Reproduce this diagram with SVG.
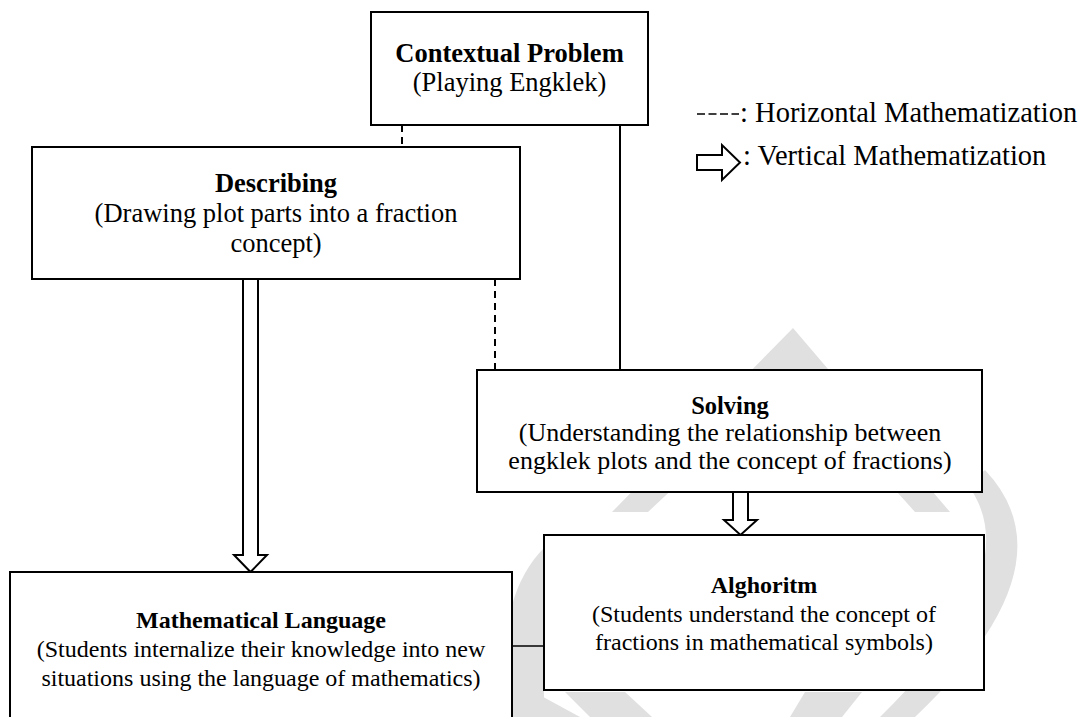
<svg xmlns="http://www.w3.org/2000/svg" width="1087" height="717" viewBox="0 0 1087 717">
<style>
.box{fill:#fff;stroke:#000;stroke-width:2}
.t{font-family:"Liberation Serif","Times New Roman",serif;font-size:26.5px;fill:#000;text-anchor:middle}
.s{font-size:24px}
.m{font-size:26px}
.b{font-weight:bold}
.dash{stroke:#000;stroke-width:2;stroke-dasharray:7 5;fill:none}
.solid{stroke:#000;stroke-width:2;fill:none}
.arrow{fill:#fff;stroke:#000;stroke-width:2;stroke-linejoin:miter}
.wm{fill:#e0e0e0;stroke:none}
.lg{font-family:"Liberation Serif","Times New Roman",serif;font-size:28.5px;fill:#000}
</style>
<rect width="1087" height="717" fill="#fff"/>
<g id="watermark">
<polygon class="wm" points="612,512 793,328 950,512 915,512 793,376 648,512"/>
<path class="wm" d="M 985,470 Q 1075,565 915,717 L 880,717 Q 1030,570 968,485 Z"/>
<path class="wm" d="M 512,605 Q 522,570 544,548 L 544,717 L 512,717 Z"/>
<polygon class="wm" points="512,680 512,717 580,717"/>
<polygon class="wm" points="565,692 625,692 652,717 590,717"/>
<polygon class="wm" points="805,692 862,692 842,717 790,717"/>
</g>
<g id="connectors">
<line class="dash" x1="402" y1="125" x2="402" y2="147"/>
<line class="solid" x1="620" y1="125" x2="620" y2="370"/>
<line class="dash" x1="495" y1="279" x2="495" y2="370"/>
<polygon class="arrow" points="243,279 258,279 258,555 267,555 250.5,572 234,555 243,555"/>
<polygon class="arrow" points="733,492 748,492 748,520 757,520 740.5,535 724,520 733,520"/>
<line class="solid" x1="512" y1="646" x2="544" y2="646" style="stroke-width:1.5"/>
</g>
<g id="n-contextual">
<rect class="box" x="371" y="12" width="277" height="113"/>
<text class="t b" x="509.5" y="62">Contextual Problem</text>
<text class="t" x="509.5" y="91">(Playing Engklek)</text>
</g>
<g id="n-describing">
<rect class="box" x="32" y="147" width="488" height="132"/>
<text class="t b" x="276" y="192">Describing</text>
<text class="t" x="276" y="222">(Drawing plot parts into a fraction</text>
<text class="t" x="276" y="252">concept)</text>
</g>
<g id="n-solving">
<rect class="box" x="477" y="370" width="505" height="122"/>
<text class="t b" x="730" y="413.5" style="font-size:24.5px">Solving</text>
<text class="t m" x="730" y="441">(Understanding the relationship between</text>
<text class="t m" x="730" y="468.5">engklek plots and the concept of fractions)</text>
</g>
<g id="n-alghoritm">
<rect class="box" x="544" y="535" width="440" height="155"/>
<text class="t s b" x="764" y="593">Alghoritm</text>
<text class="t s" x="764" y="621.5">(Students understand the concept of</text>
<text class="t s" x="764" y="649.5">fractions in mathematical symbols)</text>
</g>
<g id="n-mathlang">
<rect class="box" x="10" y="572" width="502" height="170"/>
<text class="t s b" x="261" y="628">Mathematical Language</text>
<text class="t s" x="261" y="657">(Students internalize their knowledge into new</text>
<text class="t s" x="261" y="686">situations using the language of mathematics)</text>
</g>
<g id="legend">
<line class="dash" x1="697" y1="114" x2="739" y2="114" style="stroke-width:1.5;stroke-dasharray:8 3.5"/>
<text class="lg" x="740" y="122">: Horizontal Mathematization</text>
<polygon class="arrow" points="697,155 722,155 722,145 740,162.5 722,180 722,170 697,170"/>
<text class="lg" x="743" y="165">: Vertical Mathematization</text>
</g>
</svg>
